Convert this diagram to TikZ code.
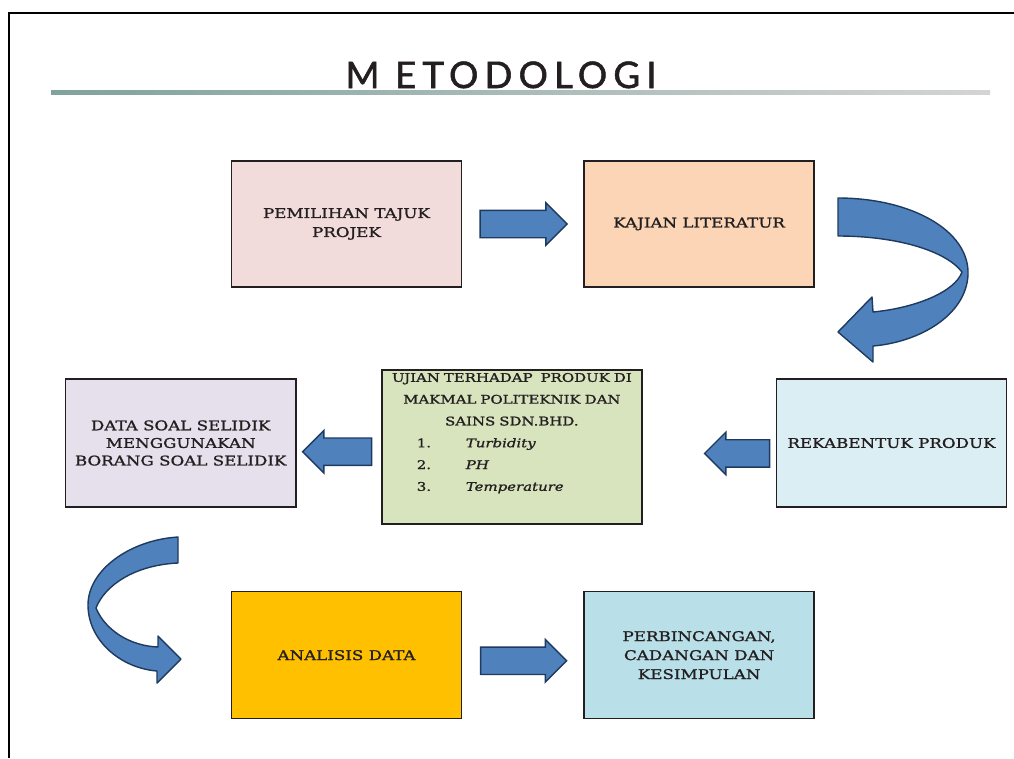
\documentclass[tikz,border=0pt]{standalone}
\usepackage{fontspec}
\setmainfont{DejaVu Serif}[FakeStretch=1.25, FakeBold=1.2]
\newfontfamily\titlefont{Lato}[LetterSpace=17, FakeBold=1.5]
\usetikzlibrary{arrows.meta,positioning,calc,shapes.arrows}
\definecolor{inkdark}{HTML}{231F20}
\definecolor{navyedge}{HTML}{1F3A5F}
\definecolor{arrowblue}{HTML}{4F81BD}
\definecolor{pinkfill}{HTML}{F2DCDB}
\definecolor{peachfill}{HTML}{FBD5B5}
\definecolor{lavfill}{HTML}{E5E0EC}
\definecolor{greenfill}{HTML}{D7E4BD}
\definecolor{skyfill}{HTML}{DBEEF3}
\definecolor{goldfill}{HTML}{FFC000}
\definecolor{tealfill}{HTML}{B9DFE8}
\definecolor{rulegreen}{HTML}{7FA39B}
\definecolor{rulegrey}{HTML}{D4D4D4}

\begin{document}
\begin{tikzpicture}[
  x=0.025cm, y=-0.025cm,
  box/.style={draw=inkdark, line width=1.1pt, minimum width=5.75cm, minimum height=3.15cm, align=center, text=inkdark, inner sep=2pt, font=\fontsize{9.5}{13.5}\selectfont},
  barrow/.style={single arrow, draw=navyedge, fill=arrowblue, line width=1pt, inner sep=0.325cm, single arrow head extend=0.19cm},
  carrow/.style={draw=navyedge, fill=arrowblue, line width=1pt, line join=round}
]
\useasboundingbox (0,0) rectangle (1014,758);
\draw[line width=1.2pt] (9,758) -- (9,13) -- (1014,13);

% title
\node[font=\titlefont\fontsize{26}{30}\selectfont, text=inkdark, anchor=base] (title) at (501,88) {M ETODOLOGI};
\shade[left color=rulegreen, right color=rulegrey] (51,90) rectangle (990,94);

% first row
\node[box, fill=pinkfill] (pem) at (346.5,224) {PEMILIHAN TAJUK\\PROJEK};
\node[box, fill=peachfill, right=3.025cm of pem] (kaj) {KAJIAN LITERATUR};

% second row
\node[box, fill=skyfill, minimum height=3.2cm] (rek) at (891.5,443) {REKABENTUK PRODUK};
\node[box, fill=greenfill, minimum width=6.5cm, minimum height=3.7cm, text width=6.3cm, inner xsep=0.1cm,
  font=\fontsize{8.5}{15.5}\selectfont, left=3.325cm of rek, yshift=-0.1cm] (uji)
  {UJIAN TERHADAP\ \ PRODUK DI\\MAKMAL POLITEKNIK DAN\\SAINS SDN.BHD.\\
   \makebox[6.3cm][l]{\hspace*{0.775cm}\makebox[1.225cm][l]{1.}\textit{Turbidity}}\\
   \makebox[6.3cm][l]{\hspace*{0.775cm}\makebox[1.225cm][l]{2.}\textit{PH}}\\
   \makebox[6.3cm][l]{\hspace*{0.775cm}\makebox[1.225cm][l]{3.}\textit{Temperature}}\\[6pt]\mbox{}};
\node[box, fill=lavfill, minimum height=3.2cm, font=\fontsize{9.5}{12.5}\selectfont, left=2.1125cm of uji, yshift=0.1cm] (dat)
  {DATA SOAL SELIDIK\\MENGGUNAKAN\\BORANG SOAL SELIDIK};

% third row
\node[box, fill=goldfill, minimum height=3.175cm, below=7.575cm of pem] (ana) {ANALISIS DATA};
\node[box, fill=tealfill, minimum height=3.175cm, right=3.025cm of ana] (per) {PERBINCANGAN,\\CADANGAN DAN\\KESIMPULAN};

% straight block arrows
\path (pem) -- (kaj) node[barrow, midway, minimum height=2.175cm, xshift=-0.15cm] (ar1) {};
\path (rek) -- (uji) node[barrow, pos=0.29, minimum height=1.625cm, shape border rotate=180, xshift=0.17cm, yshift=-0.22cm] (ar2) {};
\path (uji) -- (dat) node[barrow, midway, minimum height=1.725cm, shape border rotate=180, xshift=0.13cm, yshift=-0.17cm] (ar3) {};
\path (ana) -- (per) node[barrow, midway, minimum height=2.15cm, xshift=-0.15cm, yshift=-0.14cm] (ar4) {};

% curved block arrows
\path[carrow] (838,198) .. controls (910,198) and (970,230) .. (968,275)
  .. controls (966,315) and (920,342) .. (873,346) -- (873,362) -- (838,332) -- (872,297) -- (873,312)
  .. controls (915,308) and (955,292) .. (962,272)
  .. controls (945,250) and (895,236) .. (838,236) -- cycle;
\path[carrow] (178,537) .. controls (130,540) and (88,570) .. (88,605)
  .. controls (88,640) and (120,668) .. (157,671) -- (157,683) -- (181,659) -- (158,636) -- (158,647)
  .. controls (130,646) and (105,630) .. (96,608)
  .. controls (105,585) and (135,565) .. (178,563) -- cycle;
\end{tikzpicture}
\end{document}
